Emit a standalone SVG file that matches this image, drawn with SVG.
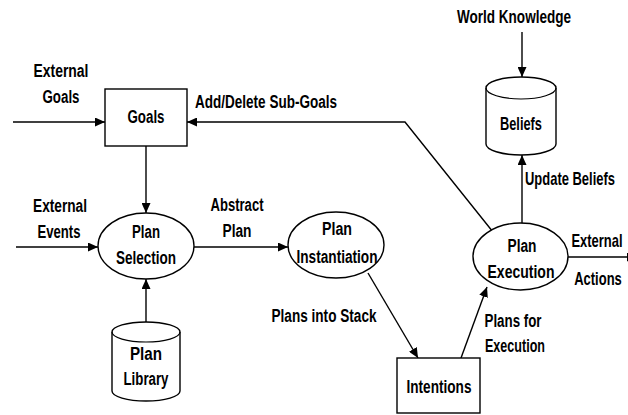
<svg xmlns="http://www.w3.org/2000/svg" width="628" height="415" viewBox="0 0 628 415">
<defs>
<marker id="ah" markerUnits="userSpaceOnUse" markerWidth="11" markerHeight="9" refX="10" refY="4.5" orient="auto">
<path d="M0,0 L10,4.5 L0,9 z" fill="#000"/>
</marker>
<style>
text{font-family:"Liberation Sans",Arial,sans-serif;font-size:18px;font-weight:bold;fill:#000;text-anchor:middle}
.shape{fill:#fff;stroke:#000;stroke-width:1.4}
.conn{fill:none;stroke:#000;stroke-width:1.4;marker-end:url(#ah)}
.plain{fill:none;stroke:#000;stroke-width:1.2}
</style>
</defs>
<rect width="628" height="415" fill="#fff"/>

<g id="connectors">
<line class="conn" x1="13" y1="122" x2="105" y2="122"/>
<path class="conn" d="M493,232 L405,122 L187,122"/>
<line class="conn" x1="146" y1="146" x2="146" y2="213"/>
<line class="conn" x1="16" y1="247" x2="98" y2="247"/>
<line class="conn" x1="194" y1="247" x2="288" y2="247"/>
<line class="conn" x1="146" y1="322" x2="146" y2="279"/>
<line class="conn" x1="368" y1="273" x2="418" y2="358"/>
<line class="conn" x1="461" y1="358" x2="487" y2="287"/>
<line class="conn" x1="522" y1="223" x2="522" y2="155"/>
<line class="conn" x1="522" y1="32" x2="522" y2="77"/>
<line class="conn" x1="568" y1="257" x2="637" y2="257"/>
</g>

<g id="labels">
<text x="61" y="77" textLength="55" lengthAdjust="spacingAndGlyphs">External</text>
<text x="61" y="103" textLength="37" lengthAdjust="spacingAndGlyphs">Goals</text>
<text x="266" y="108" textLength="142" lengthAdjust="spacingAndGlyphs">Add/Delete Sub-Goals</text>
<text x="514" y="23" textLength="114" lengthAdjust="spacingAndGlyphs">World Knowledge</text>
<text transform="translate(570,185) scale(0.72,1)">Update Beliefs</text>
<text x="60" y="212" textLength="54" lengthAdjust="spacingAndGlyphs">External</text>
<text x="59" y="238" textLength="43" lengthAdjust="spacingAndGlyphs">Events</text>
<text x="237" y="211" textLength="53" lengthAdjust="spacingAndGlyphs">Abstract</text>
<text x="237" y="237" textLength="29" lengthAdjust="spacingAndGlyphs">Plan</text>
<text x="324" y="322" textLength="105" lengthAdjust="spacingAndGlyphs">Plans into Stack</text>
<text x="513" y="327" textLength="57" lengthAdjust="spacingAndGlyphs">Plans for</text>
<text x="515" y="352" textLength="60" lengthAdjust="spacingAndGlyphs">Execution</text>
<text transform="translate(597,247) scale(0.72,1)">External</text>
<text transform="translate(598,285) scale(0.72,1)">Actions</text>
</g>

<g id="goals">
<rect class="shape" x="105" y="89" width="82" height="57"/>
<text x="146" y="123" textLength="37" lengthAdjust="spacingAndGlyphs">Goals</text>
</g>

<g id="beliefs">
<path class="shape" d="M486,88 L486,144 A35,11 0 0 0 556,144 L556,88 A35,11 0 0 0 486,88 Z"/>
<path class="plain" d="M486,88 A35,11 0 0 0 556,88"/>
<text x="521" y="130" textLength="42" lengthAdjust="spacingAndGlyphs">Beliefs</text>
</g>

<g id="plan-selection">
<ellipse class="shape" cx="146" cy="246" rx="48" ry="33"/>
<text x="146" y="238" textLength="28" lengthAdjust="spacingAndGlyphs">Plan</text>
<text x="146" y="264" textLength="60" lengthAdjust="spacingAndGlyphs">Selection</text>
</g>

<g id="plan-instantiation">
<ellipse class="shape" cx="336" cy="245" rx="48" ry="33"/>
<text x="337" y="235" textLength="30" lengthAdjust="spacingAndGlyphs">Plan</text>
<text x="337" y="263" textLength="81" lengthAdjust="spacingAndGlyphs">Instantiation</text>
</g>

<g id="plan-execution">
<ellipse class="shape" cx="520.5" cy="256.5" rx="47.5" ry="33.5"/>
<text x="522" y="252" textLength="29" lengthAdjust="spacingAndGlyphs">Plan</text>
<text x="521" y="278" textLength="67" lengthAdjust="spacingAndGlyphs">Execution</text>
</g>

<g id="plan-library">
<path class="shape" d="M112,332 L112,391 A34,10 0 0 0 180,391 L180,332 A34,10 0 0 0 112,332 Z"/>
<path class="plain" d="M112,332 A34,10 0 0 0 180,332"/>
<text x="146" y="360" textLength="32" lengthAdjust="spacingAndGlyphs">Plan</text>
<text x="146" y="385" textLength="45" lengthAdjust="spacingAndGlyphs">Library</text>
</g>

<g id="intentions">
<rect class="shape" x="397" y="358" width="83" height="55"/>
<text x="439" y="393" textLength="65" lengthAdjust="spacingAndGlyphs">Intentions</text>
</g>
</svg>
